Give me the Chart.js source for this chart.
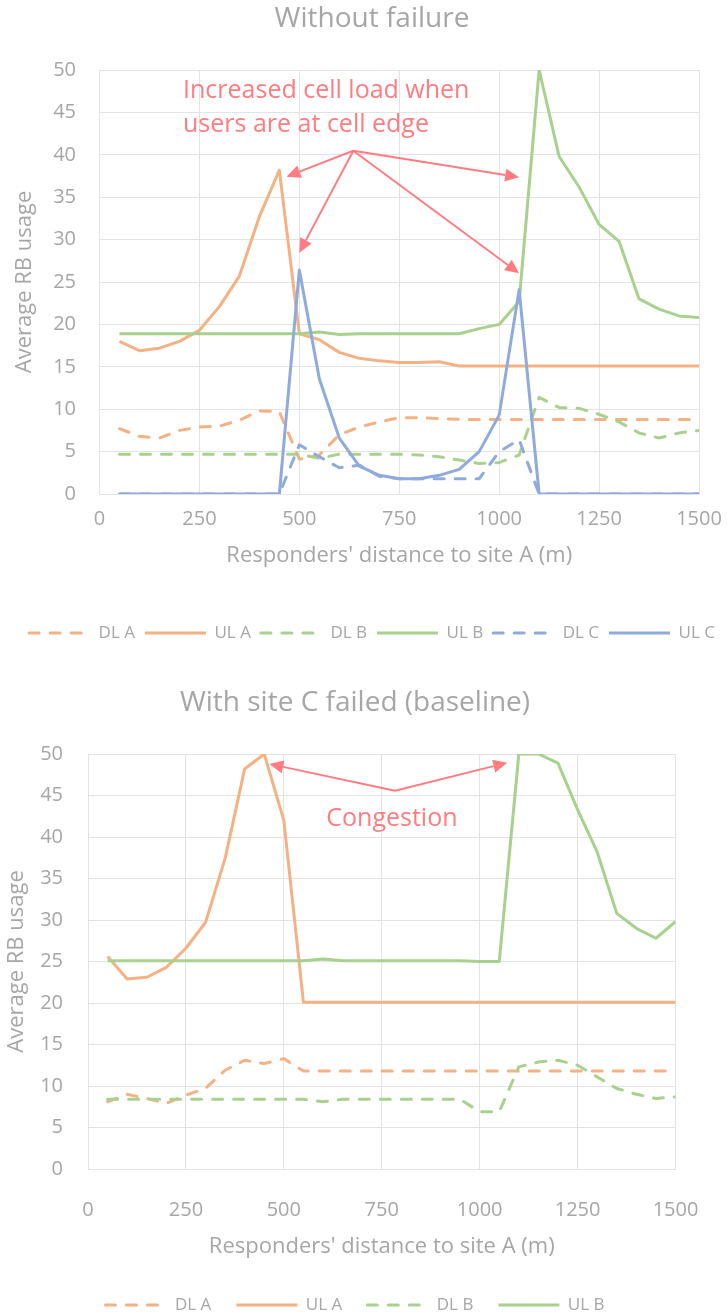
<!DOCTYPE html>
<html>
<head>
<meta charset="utf-8">
<script src="https://cdn.jsdelivr.net/npm/chart.js@4.4.1/dist/chart.umd.min.js"></script>
<style>
  html, body { margin: 0; padding: 0; background: #fff; }
  #page { position: relative; width: 728px; height: 1314px; overflow: hidden; }
  .box { position: absolute; left: 0; width: 728px; }
</style>
</head>
<body>
<div id="page">
  <div class="box" style="top:0;height:670px"><canvas id="chartNormal" width="728" height="670"></canvas></div>
  <div class="box" style="top:670px;height:660px"><canvas id="chartFailed" width="728" height="660"></canvas></div>
</div>
<script>
// responders' distance to site A (m)
const distance = [50, 100, 150, 200, 250, 300, 350, 400, 450, 500, 550, 600, 650, 700, 750,
                  800, 850, 900, 950, 1000, 1050, 1100, 1150, 1200, 1250, 1300, 1350, 1400, 1450, 1500];

// ---- Without failure ----
const dlA1 = [7.7, 6.8, 6.6, 7.5, 7.9, 8.0, 8.7, 9.8, 9.7, 4.1, 4.6, 7.0, 7.9, 8.5, 9.0,
              9.0, 8.9, 8.8, 8.8, 8.8, 8.8, 8.8, 8.8, 8.8, 8.8, 8.8, 8.8, 8.8, 8.8, 8.8];
const ulA1 = [18.0, 16.9, 17.2, 18.0, 19.3, 22.1, 25.7, 32.7, 38.2, 18.9, 18.2, 16.7, 16.0, 15.7, 15.5,
              15.5, 15.6, 15.1, 15.1, 15.1, 15.1, 15.1, 15.1, 15.1, 15.1, 15.1, 15.1, 15.1, 15.1, 15.1];
const dlB1 = [4.7, 4.7, 4.7, 4.7, 4.7, 4.7, 4.7, 4.7, 4.7, 4.7, 4.2, 4.7, 4.7, 4.7, 4.7,
              4.6, 4.4, 4.0, 3.6, 3.7, 4.6, 11.4, 10.2, 10.1, 9.4, 8.5, 7.2, 6.6, 7.2, 7.5];
const ulB1 = [18.9, 18.9, 18.9, 18.9, 18.9, 18.9, 18.9, 18.9, 18.9, 18.9, 19.1, 18.8, 18.9, 18.9, 18.9,
              18.9, 18.9, 18.9, 19.5, 20.0, 22.7, 50.0, 39.8, 36.2, 31.8, 29.8, 23.0, 21.8, 21.0, 20.8];
const dlC1 = [0, 0, 0, 0, 0, 0, 0, 0, 0, 5.8, 4.4, 3.1, 3.4, 2.1, 1.8,
              1.8, 1.8, 1.8, 1.8, 5.0, 6.4, 0, 0, 0, 0, 0, 0, 0, 0, 0];
const ulC1 = [0, 0, 0, 0, 0, 0, 0, 0, 0, 26.4, 13.6, 6.6, 3.3, 2.2, 1.8,
              1.8, 2.2, 2.9, 5.0, 9.3, 24.1, 0, 0, 0, 0, 0, 0, 0, 0, 0];

// ---- With site C failed (baseline) ----
const dlA2 = [8.1, 9.0, 8.5, 7.9, 8.9, 9.7, 11.9, 13.1, 12.7, 13.3, 11.8, 11.8, 11.8, 11.8, 11.8,
              11.8, 11.8, 11.8, 11.8, 11.8, 11.8, 11.8, 11.8, 11.8, 11.8, 11.8, 11.8, 11.8, 11.8, 11.8];
const ulA2 = [25.6, 22.9, 23.1, 24.3, 26.6, 29.7, 37.4, 48.2, 50.0, 42.0, 20.1, 20.1, 20.1, 20.1, 20.1,
              20.1, 20.1, 20.1, 20.1, 20.1, 20.1, 20.1, 20.1, 20.1, 20.1, 20.1, 20.1, 20.1, 20.1, 20.1];
const dlB2 = [8.4, 8.4, 8.4, 8.4, 8.4, 8.4, 8.4, 8.4, 8.4, 8.4, 8.4, 8.1, 8.4, 8.4, 8.4,
              8.4, 8.4, 8.4, 8.4, 6.9, 6.9, 12.3, 12.9, 13.1, 12.5, 11.1, 9.7, 9.0, 8.5, 8.7];
const ulB2 = [25.1, 25.1, 25.1, 25.1, 25.1, 25.1, 25.1, 25.1, 25.1, 25.1, 25.1, 25.3, 25.1, 25.1, 25.1,
              25.1, 25.1, 25.1, 25.1, 25.0, 25.0, 50.0, 50.0, 48.9, 43.3, 38.2, 30.8, 29.0, 27.8, 29.8];

const xTicksMax = 1500;
const yTicksMax = 50;

const FONT = "'Open Sans', sans-serif";
const TEXT = "#A6A6A6";
const GRID = "#E3E3E3";
const ORANGE = "#F4B183";
const GREEN = "#A9D18E";
const BLUE = "#8FAADC";
const RED = "#FF7C80";
const DASH = [10, 11];

function series(label, ys, color, dashed, order) {
    return {
        label: label,
        data: distance.map((x, i) => ({ x: x, y: ys[i] })),
        borderColor: color,
        backgroundColor: color,
        borderWidth: 3,
        borderDash: dashed ? DASH : [],
        borderCapStyle: dashed ? "round" : "butt",
        borderJoinStyle: "round",
        pointRadius: 0,
        tension: 0,
        fill: false,
        order: order, // later series painted on top, like the original
    };
}

// arrows + notes, positioned in data units
const calloutPlugin = {
    id: "callouts",
    afterDatasetsDraw(chart, args, opts) {
        const { ctx } = chart;
        const xs = chart.scales.x;
        const ys = chart.scales.y;
        ctx.save();
        ctx.fillStyle = RED;
        ctx.strokeStyle = RED;
        ctx.lineWidth = 2;
        ctx.font = "25px " + FONT;
        ctx.textBaseline = "alphabetic";
        (opts.notes || []).forEach((n) => {
            ctx.textAlign = n.align;
            ctx.fillText(n.text, xs.getPixelForValue(n.x), ys.getPixelForValue(n.y));
        });
        (opts.arrows || []).forEach((a) => {
            const x0 = xs.getPixelForValue(a.from[0]);
            const y0 = ys.getPixelForValue(a.from[1]);
            const x1 = xs.getPixelForValue(a.to[0]);
            const y1 = ys.getPixelForValue(a.to[1]);
            const ang = Math.atan2(y1 - y0, x1 - x0);
            const head = 14, half = 6.5;
            const bx = x1 - Math.cos(ang) * head;
            const by = y1 - Math.sin(ang) * head;
            ctx.beginPath();
            ctx.moveTo(x0, y0);
            ctx.lineTo(bx, by);
            ctx.stroke();
            ctx.beginPath();
            ctx.moveTo(x1, y1);
            ctx.lineTo(bx + Math.sin(ang) * half, by - Math.cos(ang) * half);
            ctx.lineTo(bx - Math.sin(ang) * half, by + Math.cos(ang) * half);
            ctx.closePath();
            ctx.fill();
        });
        ctx.restore();
    },
};

// legend samples as plain (dashed) line strokes
function legendLabels(chart) {
    return Chart.defaults.plugins.legend.labels.generateLabels(chart).map((item) => {
        const ds = chart.data.datasets[item.datasetIndex];
        item.lineDash = ds.borderDash;
        item.lineCap = ds.borderCapStyle;
        item.lineWidth = 3;
        item.strokeStyle = ds.borderColor;
        item.fillStyle = ds.borderColor;
        return item;
    });
}

function buildOptions(L) {
    return {
        responsive: false,
        animation: false,
        layout: { padding: { left: L.padL, right: L.padR, top: 0, bottom: L.padB } },
        plugins: {
            title: {
                display: true,
                text: L.title,
                color: TEXT,
                font: { family: FONT, size: 28, weight: "normal" },
                padding: { top: L.titleTop, bottom: L.titleBottom },
            },
            legend: {
                position: "bottom",
                labels: {
                    color: TEXT,
                    font: { family: FONT, size: 17 },
                    usePointStyle: true,
                    pointStyle: "line",
                    pointStyleWidth: 61,
                    padding: L.legendGap,
                    generateLabels: legendLabels,
                    sort: (a, b) => a.datasetIndex - b.datasetIndex,
                },
            },
            tooltip: { enabled: false },
            callouts: L.callouts,
        },
        scales: {
            x: {
                type: "linear",
                min: 0,
                max: xTicksMax,
                ticks: {
                    stepSize: 250,
                    color: TEXT,
                    font: { family: FONT, size: 20 },
                    padding: L.xTickPad,
                    maxRotation: 0,
                    callback: (v) => String(v),
                },
                grid: { color: GRID, drawTicks: false },
                border: { color: GRID },
                title: {
                    display: true,
                    text: "Responders' distance to site A (m)",
                    color: TEXT,
                    font: { family: FONT, size: 22 },
                    padding: { top: 0, bottom: L.xTitlePad },
                },
                afterFit: (s) => {
                    s.height = L.xAxisH;
                    s.paddingRight = L.plotRightGap;
                },
            },
            y: {
                min: 0,
                max: yTicksMax,
                ticks: {
                    stepSize: 5,
                    color: TEXT,
                    font: { family: FONT, size: 20 },
                    padding: L.yTickPad,
                    callback: (v) => String(v),
                },
                grid: { color: GRID, drawTicks: false },
                border: { color: GRID },
                title: {
                    display: true,
                    text: "Average RB usage",
                    color: TEXT,
                    font: { family: FONT, size: 22 },
                    padding: { top: L.yTitlePad, bottom: 0 },
                },
                afterFit: (s) => { s.width = L.yAxisW; },
            },
        },
    };
}

new Chart(document.getElementById("chartNormal"), {
    type: "line",
    data: {
        datasets: [
            series("DL A", dlA1, ORANGE, true, 6),
            series("UL A", ulA1, ORANGE, false, 5),
            series("DL B", dlB1, GREEN, true, 4),
            series("UL B", ulB1, GREEN, false, 3),
            series("DL C", dlC1, BLUE, true, 2),
            series("UL C", ulC1, BLUE, false, 1),
        ],
    },
    options: buildOptions({
        title: "Without failure",
        padL: 16, padR: 0, padB: 18.5, plotRightGap: 29,
        titleTop: 2, titleBottom: 34.4,
        yAxisW: 83.5, yTickPad: 23.5, yTitlePad: -4.2,
        xAxisH: 120.5, xTickPad: 13, xTitlePad: 45.3,
        legendGap: 10,
        callouts: {
            notes: [
                { text: "Increased cell load when", x: 209, y: 46.66, align: "left" },
                { text: "users are at cell edge", x: 209, y: 42.69, align: "left" },
            ],
            arrows: [
                { from: [635, 40.48], to: [468, 37.42] },
                { from: [635, 40.48], to: [500, 28.45] },
                { from: [635, 40.48], to: [1050, 37.35] },
                { from: [635, 40.48], to: [1050, 26.03] },
            ],
        },
    }),
    plugins: [calloutPlugin],
});

new Chart(document.getElementById("chartFailed"), {
    type: "line",
    data: {
        datasets: [
            series("DL A", dlA2, ORANGE, true, 4),
            series("UL A", ulA2, ORANGE, false, 3),
            series("DL B", dlB2, GREEN, true, 2),
            series("UL B", ulB2, GREEN, false, 1),
        ],
    },
    options: buildOptions({
        title: "With site C failed (baseline)",
        padL: 0, padR: 18, padB: 6.5, plotRightGap: 52.5,
        titleTop: 16.2, titleBottom: 34.2,
        yAxisW: 88, yTickPad: 25, yTitlePad: 3.8,
        xAxisH: 102.5, xTickPad: 29, xTitlePad: 11.3,
        legendGap: 25,
        callouts: {
            notes: [
                { text: "Congestion", x: 776, y: 41.3, align: "center" },
            ],
            arrows: [
                { from: [784, 45.58], to: [463, 48.8] },
                { from: [784, 45.58], to: [1070.5, 48.95] },
            ],
        },
    }),
    plugins: [calloutPlugin],
});
</script>
</body>
</html>
